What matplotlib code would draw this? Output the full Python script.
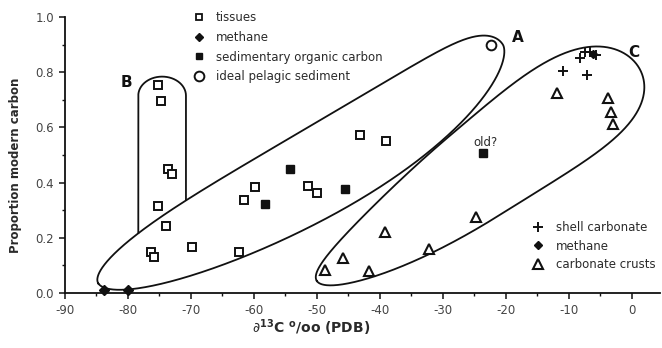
import numpy as np
import matplotlib
matplotlib.use("Agg")
import matplotlib.pyplot as plt
from matplotlib.path import Path
from matplotlib.lines import Line2D

plt.rcParams["axes.unicode_minus"] = False

# values
tissue_x = [-75.2, -74.8, -73.6, -73.0, -75.2, -73.9, -76.4, -75.9, -69.9,
            -62.3, -61.5, -59.8, -51.4, -50.0, -43.1, -39.0]
tissue_y = [0.754, 0.697, 0.449, 0.431, 0.316, 0.244, 0.147, 0.129, 0.168,
            0.150, 0.338, 0.383, 0.389, 0.361, 0.572, 0.551]
sed_x = [-58.3, -54.3, -45.6, -23.6]
sed_y = [0.322, 0.449, 0.377, 0.506]
methane_x = [-83.8, -80.0]
methane_y = [0.012, 0.012]
pelagic_x = [-22.3]
pelagic_y = [0.899]
shell_x = [-10.95, -8.25, -7.46, -7.14, -6.67, -5.71]
shell_y = [0.804, 0.850, 0.874, 0.790, 0.873, 0.862]
seep_methane_x = [-6.19]
seep_methane_y = [0.866]
crust_x = [-48.7, -45.9, -41.7, -39.2, -32.2, -24.7, -11.8, -3.8, -3.3, -2.9]
crust_y = [0.083, 0.126, 0.081, 0.220, 0.159, 0.277, 0.723, 0.705, 0.657, 0.612]

ink = "#111111"
txt = "#2a2a2a"

fig = plt.figure(figsize=(6.62, 3.48), dpi=100)
ax = fig.add_axes([65 / 662, 55 / 348, 595 / 662, 276 / 348])
ax.set_xlim(-90, 4.5)
ax.set_ylim(0, 1.0)


def edge(r, h, k, p_l, p_r, q_l, q_r):
    p = np.where(r < 0, p_l, p_r)
    q = np.where(r < 0, q_l, q_r)
    return h * (1 + k * r) * np.clip(1 - np.abs(r) ** p, 0, 1) ** q


def envelope(p0, p1, upper, lower, tilt=0.0, n=700):
    # outline drawn round a group, built in pixel space from its two tips
    P0 = ax.transData.transform(p0)
    P1 = ax.transData.transform(p1)
    mid = (P0 + P1) / 2
    d = P1 - P0
    a = np.hypot(*d) / 2
    e = d / (2 * a)
    nrm = np.array([-e[1], e[0]])
    r = -np.cos(np.linspace(0, np.pi, n))
    off = tilt * r * (1 - r ** 2)
    vu = edge(r, *upper) + off
    vl = -edge(r, *lower) + off
    u = np.concatenate([r, r[::-1]]) * a
    v = np.concatenate([vu, vl[::-1]])
    return mid + np.outer(u, e) + np.outer(v, nrm)


inv = ax.transData.inverted()

A_pix = envelope((-84.72, 0.035), (-20.43, 0.899),
                 upper=(28, 0.0, 3.7, 10, 0.5, 0.5),
                 lower=(60, 0.15, 2, 2, 0.55, 0.6))
C_pix = envelope((-50.0, 0.0435), (1.0, 0.822),
                 upper=(47, 0.3, 2.2, 4, 0.5, 0.5),
                 lower=(47, 0.3, 2.2, 4, 0.5, 0.5), tilt=8)
for shape in (A_pix, C_pix):
    pts = inv.transform(shape)
    ax.plot(pts[:, 0], pts[:, 1], color=ink, lw=1.3, clip_on=False)

# B: open-bottom stadium stopping on the A outline
bl = ax.transData.transform((-78.36, 0.784))
br = ax.transData.transform((-70.79, 0.784))
hw = (br[0] - bl[0]) / 2
cx = (br[0] + bl[0]) / 2
top = bl[1]
cap = 19
ybot = ax.transData.transform((0, 0.1))[1]
ys = np.linspace(ybot, top - cap, 300)
th = np.linspace(np.pi, 0, 120)
Bx = np.concatenate([np.full_like(ys, cx - hw), cx + hw * np.cos(th), np.full_like(ys, cx + hw)])
By = np.concatenate([ys, top - cap + cap * np.sin(th), ys[::-1]])
B_pix = np.column_stack([Bx, By])
inside = Path(A_pix).contains_points(B_pix)
B_pts = inv.transform(B_pix)
B_pts[inside] = np.nan
ax.plot(B_pts[:, 0], B_pts[:, 1], color=ink, lw=1.3)

# points
ax.plot(tissue_x, tissue_y, 's', ms=5.5, mfc="white", mec=ink, mew=1.4, ls="none")
ax.plot(sed_x, sed_y, 's', ms=5.5, mfc=ink, mec=ink, ls="none")
ax.plot(methane_x, methane_y, 'D', ms=5, mfc=ink, mec=ink, ls="none", clip_on=False)
ax.plot(pelagic_x, pelagic_y, 'o', ms=7, mfc="white", mec=ink, mew=1.4, ls="none")
ax.plot(shell_x, shell_y, '+', ms=6.5, mec=ink, mew=1.4, ls="none")
ax.plot(seep_methane_x, seep_methane_y, 'D', ms=4.5, mfc=ink, mec=ink, ls="none")
ax.plot(crust_x, crust_y, '^', ms=7, mfc="white", mec=ink, mew=1.5, ls="none")

# labels in the plot
ax.text(-18.1, 0.924, "A", fontsize=11, fontweight="bold", color=ink, ha="center", va="center")
ax.text(-80.3, 0.764, "B", fontsize=11, fontweight="bold", color=ink, ha="center", va="center")
ax.text(0.3, 0.873, "C", fontsize=11, fontweight="bold", color=ink, ha="center", va="center")
ax.text(-23.2, 0.547, "old?", fontsize=8.5, color=txt, ha="center", va="center")

# legends
h1 = [Line2D([], [], marker='s', ms=5, mfc="white", mec=ink, mew=1.3, ls="none"),
      Line2D([], [], marker='D', ms=4.5, mfc=ink, mec=ink, ls="none"),
      Line2D([], [], marker='s', ms=5, mfc=ink, mec=ink, ls="none"),
      Line2D([], [], marker='o', ms=7, mfc="white", mec=ink, mew=1.4, ls="none")]
l1 = ["tissues", "methane", "sedimentary organic carbon", "ideal pelagic sediment"]
leg1 = ax.legend(h1, l1, loc="upper left", bbox_to_anchor=(0.215, 1.022), frameon=False,
                 fontsize=8.5, handlelength=1.0, handletextpad=0.95, labelspacing=0.58,
                 borderpad=0, borderaxespad=0)
for t in leg1.get_texts():
    t.set_color(txt)
ax.add_artist(leg1)

h2 = [Line2D([], [], marker='+', ms=6.5, mec=ink, mew=1.4, ls="none"),
      Line2D([], [], marker='D', ms=4.5, mfc=ink, mec=ink, ls="none"),
      Line2D([], [], marker='^', ms=7, mfc="white", mec=ink, mew=1.5, ls="none")]
l2 = ["shell carbonate", "methane", "carbonate crusts"]
leg2 = ax.legend(h2, l2, loc="upper left", bbox_to_anchor=(0.785, 0.262), frameon=False,
                 fontsize=8.5, handlelength=1.0, handletextpad=1.0, labelspacing=0.5,
                 borderpad=0, borderaxespad=0)
for t in leg2.get_texts():
    t.set_color(txt)

# axes styling
for side in ("top", "right"):
    ax.spines[side].set_visible(False)
for side in ("left", "bottom"):
    ax.spines[side].set_linewidth(1.3)
    ax.spines[side].set_color(ink)
ax.set_xticks(np.arange(-90, 1, 10))
ax.set_xticks(np.arange(-85, 5, 10), minor=True)
ax.set_yticks(np.arange(0, 1.01, 0.2))
ax.set_yticks(np.arange(0.1, 1.0, 0.2), minor=True)
ax.set_yticklabels([f"{v:.1f}" for v in np.arange(0, 1.01, 0.2)])
ax.tick_params(which="major", direction="out", length=4, width=1.1, color=ink,
               labelsize=8.5, labelcolor="#444444", pad=4)
ax.tick_params(which="minor", direction="out", length=2.5, width=1.0, color=ink)

ax.set_ylabel("Proportion modern carbon", fontsize=8.5, fontweight="bold", color=txt)
ax.yaxis.set_label_coords(-0.072, 0.464)
ax.set_xlabel(r"$\partial^{\mathbf{13}}$C $^{\mathbf{o}}$/oo (PDB)", fontsize=10,
              fontweight="bold", color=txt)
ax.xaxis.set_label_coords(0.413, -0.09)

fig.savefig("out.png", dpi=100)
